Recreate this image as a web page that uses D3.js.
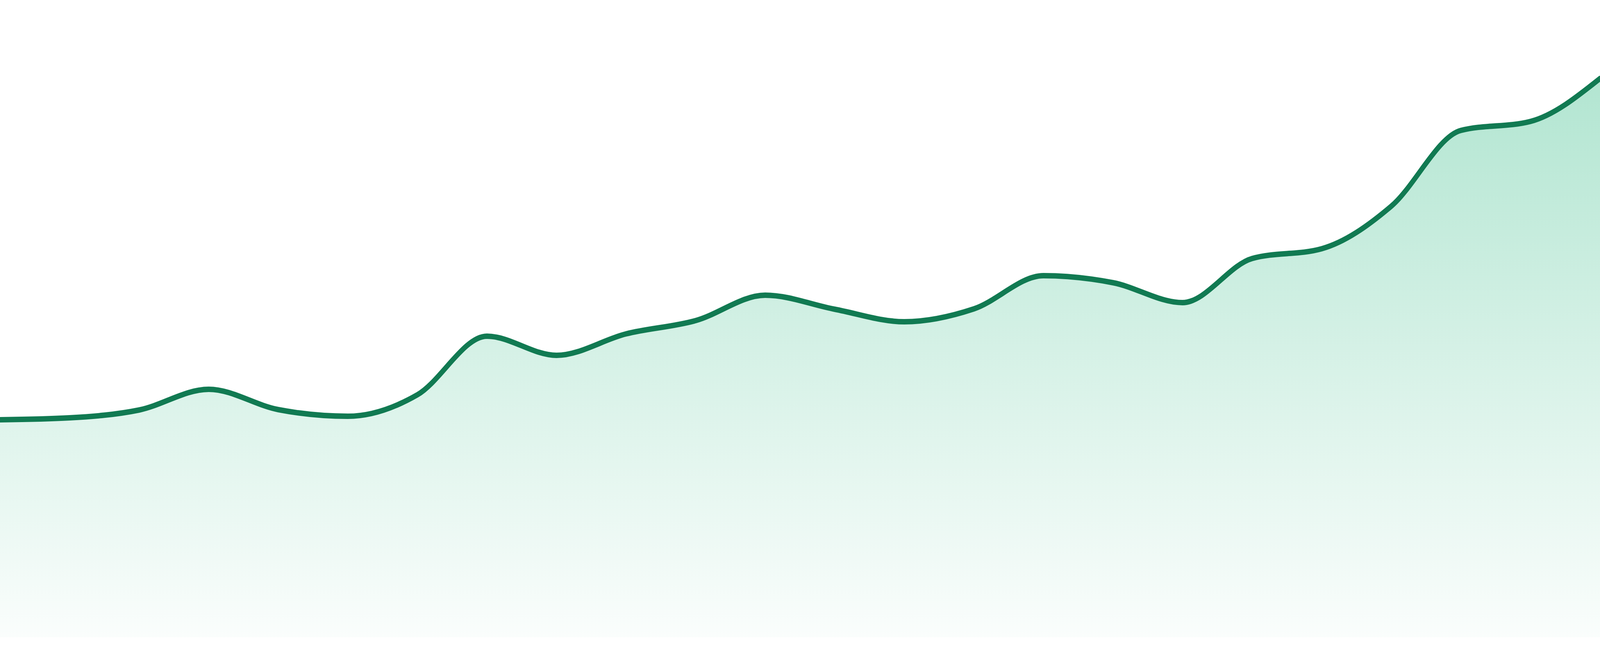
<!DOCTYPE html>
<html>
<head>
<meta charset="utf-8">
<script src="https://cdn.jsdelivr.net/npm/d3@7"></script>
<style>
  html, body { margin: 0; padding: 0; background: #ffffff; overflow: hidden; width: 100%; height: 100%; }
  svg { display: block; width: 100vw; height: 100vh; }
</style>
</head>
<body>
<svg id="chart" viewBox="0 0 4800 1680" preserveAspectRatio="none"></svg>
<script>
// Data
const categories = ["P1","P2","P3","P4","P5","P6","P7","P8","P9","P10","P11","P12",
                    "P13","P14","P15","P16","P17","P18","P19","P20","P21","P22","P23","P24"];
const values = [55.7, 56.2, 58.2, 63.5, 58.3, 56.6, 62.1, 77.1, 72.2, 77.7, 81.1, 87.6,
                84.0, 80.8, 84.1, 92.6, 90.8, 85.7, 97.0, 99.5, 110.4, 129.8, 132.1, 143.1];
const yDomain = [0, 163.2];

const W = 4800, H = 1680, bottom = 1632;
const svg = d3.select("#chart");

const x = d3.scalePoint().domain(categories).range([0, W]).padding(0);
const y = d3.scaleLinear().domain(yDomain).range([bottom, 0]);

const data = categories.map((c, i) => ({ c, v: values[i] }));

const defs = svg.append("defs");
const grad = defs.append("linearGradient")
  .attr("id", "fillGrad")
  .attr("gradientUnits", "userSpaceOnUse")
  .attr("x1", 0).attr("x2", 0)
  .attr("y1", 200).attr("y2", bottom);
grad.append("stop").attr("offset", "0%").attr("stop-color", "#0faf70").attr("stop-opacity", 0.32);
grad.append("stop").attr("offset", "100%").attr("stop-color", "#0faf70").attr("stop-opacity", 0.02);

const area = d3.area()
  .x(d => x(d.c))
  .y0(y(0))
  .y1(d => y(d.v))
  .curve(d3.curveMonotoneX);

const line = d3.line()
  .x(d => x(d.c))
  .y(d => y(d.v))
  .curve(d3.curveMonotoneX);

svg.append("path")
  .datum(data)
  .attr("d", area)
  .attr("fill", "url(#fillGrad)");

svg.append("path")
  .datum(data)
  .attr("d", line)
  .attr("fill", "none")
  .attr("stroke", "#117a52")
  .attr("stroke-width", 14)
  .attr("stroke-linejoin", "round")
  .attr("stroke-linecap", "round");
</script>
</body>
</html>
